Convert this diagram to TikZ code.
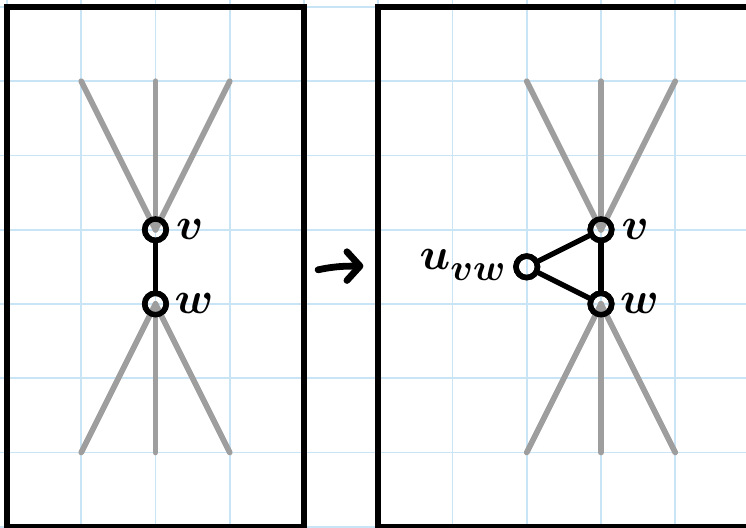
\documentclass[tikz,border=0pt]{standalone}
\usetikzlibrary{arrows.meta}
\definecolor{gridblue}{RGB}{200,228,245}
\definecolor{edgegray}{RGB}{158,158,158}
\tikzset{
  gridline/.style={draw=gridblue, line width=0.7pt},
  framebox/.style={draw=black, line width=2.3pt},
  vtx/.style={circle, draw=black, line width=2.1pt, minimum size=0.29cm, inner sep=0pt},
  grayedge/.style={draw=edgegray, line width=2.2pt, line cap=round},
  blackedge/.style={draw=black, line width=2pt, line cap=round},
  lbl/.style={font=\fontsize{19}{22}\selectfont\boldmath, inner sep=0pt},
  bigarrow/.style={draw=black, line width=2.6pt, line cap=round, -{Straight Barb[length=5pt, width=11pt, round]}}
}
\begin{document}
\begin{tikzpicture}
\useasboundingbox (-0.094,-0.004) rectangle (9.953,7.094);
\clip (-0.094,-0.004) rectangle (9.953,7.094);
% grid
\foreach \x in {0,...,10} { \draw[gridline] (\x,-0.5) -- (\x,7.5); }
\foreach \y in {0,...,7} { \draw[gridline] (-0.5,\y) -- (10.5,\y); }
% frames
\draw[framebox] (0,0) rectangle (4,7);
\draw[framebox] (5,0) rectangle (10.5,7);
% left graph
\node[vtx] (lv) at (2,4) {};
\node[vtx] (lw) at (2,3) {};
\coordinate (lt1) at (1,6); \coordinate (lt2) at (2,6); \coordinate (lt3) at (3,6);
\coordinate (lb1) at (1,1); \coordinate (lb2) at (2,1); \coordinate (lb3) at (3,1);
\foreach \t in {lt1,lt2,lt3} { \draw[grayedge] (lv.center) -- (\t); }
\foreach \t in {lb1,lb2,lb3} { \draw[grayedge] (lw.center) -- (\t); }
\draw[blackedge] (lv) -- (lw);
\node[vtx] at (lv) {};
\node[vtx] at (lw) {};
\node[lbl, anchor=west] (lvl) at (2.27,4) {$v$};
\node[lbl, anchor=west] (lwl) at (2.25,3) {$w$};
% arrow
\coordinate (a0) at (4.19,3.46);
\coordinate (a1) at (4.8,3.51);
\draw[bigarrow] (a0) to[out=12,in=180] (a1);
% right graph
\node[vtx] (rv) at (8,4) {};
\node[vtx] (rw) at (8,3) {};
\node[vtx] (ru) at (7,3.5) {};
\coordinate (rt1) at (7,6); \coordinate (rt2) at (8,6); \coordinate (rt3) at (9,6);
\coordinate (rb1) at (7,1); \coordinate (rb2) at (8,1); \coordinate (rb3) at (9,1);
\foreach \t in {rt1,rt2,rt3} { \draw[grayedge] (rv.center) -- (\t); }
\foreach \t in {rb1,rb2,rb3} { \draw[grayedge] (rw.center) -- (\t); }
\draw[blackedge] (rv) -- (rw);
\draw[blackedge] (ru) -- (rv);
\draw[blackedge] (ru) -- (rw);
\node[vtx] at (rv) {};
\node[vtx] at (rw) {};
\node[vtx] at (ru) {};
\node[lbl, anchor=east] (rul) at (6.72,3.52) {$u$\raisebox{-0.22em}{\fontsize{14}{16}\selectfont$vw$}};
\node[lbl, anchor=west] (rvl) at (8.27,4) {$v$};
\node[lbl, anchor=west] (rwl) at (8.25,3) {$w$};
\end{tikzpicture}
\end{document}
